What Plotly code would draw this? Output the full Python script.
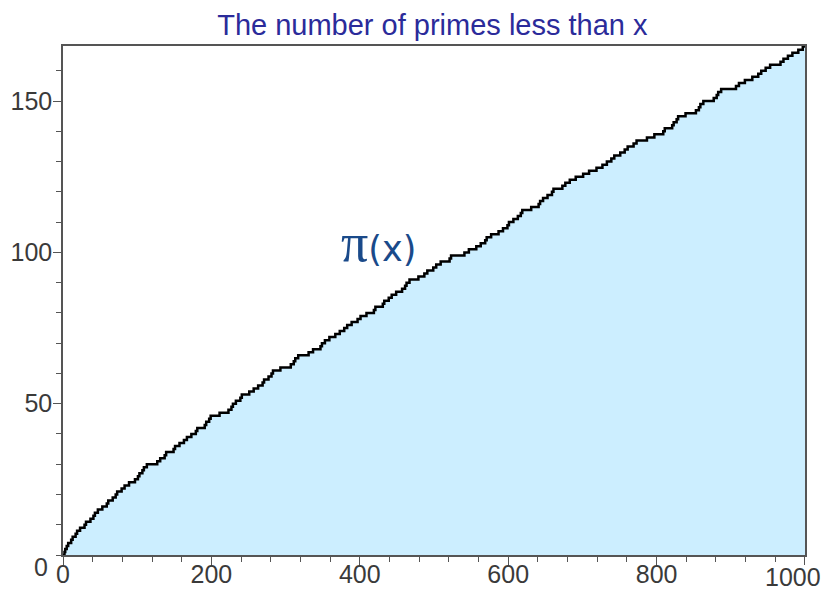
import plotly.graph_objects as go

# Primes below 1000 (the jumps of pi(x))
primes = [
    2, 3, 5, 7, 11, 13, 17, 19, 23, 29, 31, 37, 41, 43, 47, 53, 59, 61, 67, 71, 73, 79, 83, 89, 97,
    101, 103, 107, 109, 113, 127, 131, 137, 139, 149, 151, 157, 163, 167, 173, 179, 181, 191, 193, 197, 199,
    211, 223, 227, 229, 233, 239, 241, 251, 257, 263, 269, 271, 277, 281, 283, 293,
    307, 311, 313, 317, 331, 337, 347, 349, 353, 359, 367, 373, 379, 383, 389, 397,
    401, 409, 419, 421, 431, 433, 439, 443, 449, 457, 461, 463, 467, 479, 487, 491, 499,
    503, 509, 521, 523, 541, 547, 557, 563, 569, 571, 577, 587, 593, 599,
    601, 607, 613, 617, 619, 631, 641, 643, 647, 653, 659, 661, 673, 677, 683, 691,
    701, 709, 719, 727, 733, 739, 743, 751, 757, 761, 769, 773, 787, 797,
    809, 811, 821, 823, 827, 829, 839, 853, 857, 859, 863, 877, 881, 883, 887,
    907, 911, 919, 929, 937, 941, 947, 953, 967, 971, 977, 983, 991, 997,
]
x_start, x_end = 0, 1000
x_ticks = [0, 200, 400, 600, 800, 1000]
x_tick_labels = ["0", "200", "400", "600", "800", ""]
x_last_label = "1000"
y_ticks = [50, 100, 150]

xs = [x_start] + primes + [x_end]
ys = [0] + [i + 1 for i in range(len(primes))] + [len(primes)]

fig = go.Figure()
fig.add_trace(go.Scatter(
    x=xs, y=ys, mode="lines", line=dict(shape="hv", color="black", width=2.5),
    fill="tozeroy", fillcolor="#CCEEFF", hoverinfo="skip", showlegend=False,
))

axis_font = dict(family="Liberation Sans", size=25, color="#3A3A3A")
fig.update_layout(
    width=824, height=582,
    margin=dict(l=55, r=27, t=38, b=35),
    paper_bgcolor="white", plot_bgcolor="white",
    title=dict(text="The number of primes less than x", x=0.515, xanchor="center",
               y=0.971, yanchor="middle",
               font=dict(family="Liberation Sans", size=29, color="#2B2B9A")),
    xaxis=dict(range=[x_start, x_end + 0.01], tickvals=x_ticks, ticktext=x_tick_labels,
               ticks="outside", ticklen=8,
               tickcolor="#555555", showline=True, linecolor="#555555", linewidth=1.5,
               mirror=True, showgrid=False, zeroline=False, tickfont=axis_font,
               automargin=False, ticklabelstandoff=-12, ticklabeloverflow="allow",
               minor=dict(dtick=40, ticks="outside", ticklen=5, tickcolor="#555555")),
    yaxis=dict(range=[0, 168.2], tickvals=y_ticks, ticks="outside", ticklen=8,
               tickcolor="#555555", showline=True, linecolor="#555555", linewidth=1.5,
               mirror=True, showgrid=False, zeroline=False, tickfont=axis_font,
               automargin=False, ticklabelstandoff=-4, ticklabeloverflow="allow",
               minor=dict(dtick=10, ticks="outside", ticklen=5, tickcolor="#555555")),
)
fig.add_annotation(text="0", xref="paper", yref="paper", x=-0.0175, y=-0.024,
                   xanchor="right", yanchor="middle", showarrow=False, font=axis_font)
fig.add_annotation(text=x_last_label, xref="paper", yref="paper", x=1.024, y=-0.043,
                   xanchor="right", yanchor="middle", showarrow=False, font=axis_font)
fig.add_annotation(
    text="<span style='font-family:Liberation Serif;font-size:54px'>π</span>(x)",
    x=425, y=103, showarrow=False,
    font=dict(family="DejaVu Sans", size=35, color="#1A4A8A"))

fig.write_html("out.html")
